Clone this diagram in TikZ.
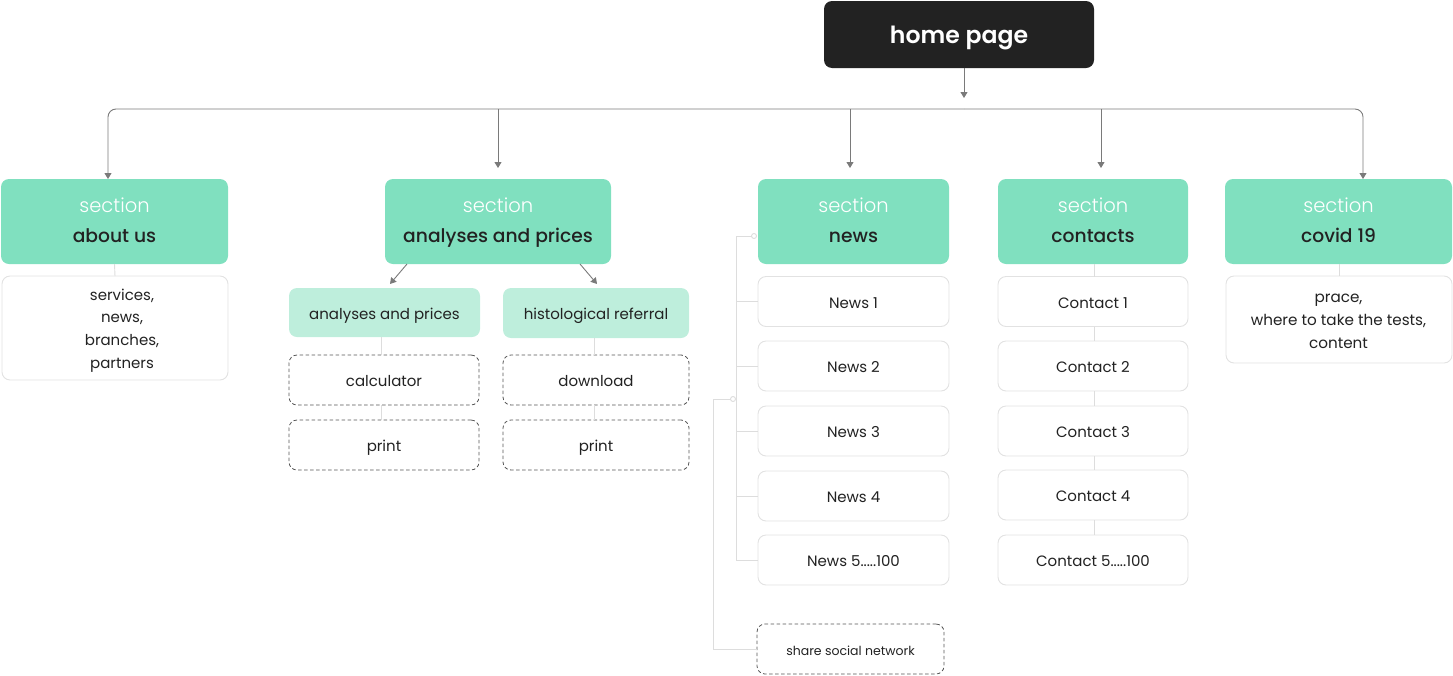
\documentclass[tikz,border=0pt]{standalone}
\usepackage{fontspec}
\setmainfont{Poppins}
\newfontfamily\poplight{Poppins Light}
\newfontfamily\popmed{Poppins Medium}
\newfontfamily\popsemi{Poppins SemiBold}
\usetikzlibrary{arrows.meta}

\definecolor{ink}{HTML}{222222}
\definecolor{homebg}{HTML}{222222}
\definecolor{secg}{HTML}{80E0BF}
\definecolor{subg}{HTML}{BEEEDC}
\definecolor{edge}{HTML}{E2E2E2}
\definecolor{wireg}{HTML}{DDDDDD}
\definecolor{arrg}{HTML}{7A7A7A}
\definecolor{dashc}{HTML}{555555}

% two-line section caption; the struts keep every caption at the same height
\newcommand\sectstrut{\rule[-4pt]{0pt}{20pt}}
\newcommand\sectlabel[1]{{\poplight\fontsize{19.5}{30}\selectfont\color{white}\sectstrut section}\\{\popmed\sectstrut #1}}

\tikzset{
  base/.style={rounded corners=8pt, inner sep=0pt, outer sep=0pt, align=center, text=ink},
  homebox/.style={base, fill=homebg, text=white, font=\popsemi\fontsize{23.6}{28}\selectfont,
    text height=19pt, text depth=1.4pt},
  sect/.style={base, fill=secg, font=\fontsize{18.7}{30}\selectfont},
  oneline/.style={text height=15pt, text depth=1.4pt},
  leaf/.style={base, draw=edge, fill=white, line width=0.9pt, font=\fontsize{15}{23}\selectfont},
  subbox/.style={base, oneline, fill=subg, font=\fontsize{15}{23}\selectfont},
  optbox/.style={base, oneline, draw=dashc, fill=white, line width=0.8pt, dash pattern=on 3.5pt off 2.5pt, font=\fontsize{15}{23}\selectfont},
  listtext/.style={font=\fontsize{15}{22.8}\selectfont, text=ink, align=center, inner sep=0pt},
  wire/.style={draw=wireg, line width=0.9pt},
  arr/.style={draw=arrg, line width=0.9pt, -{Triangle[width=7pt,length=6pt]}},
  bus/.style={arr, rounded corners=8pt},
}

\begin{document}
\begin{tikzpicture}[x=1pt,y=-1pt]
\useasboundingbox (0,0) rectangle (1453,675);

% root
\node[homebox, minimum width=270, minimum height=67] (home) at (959,34.5) {home page};

% sections
\node[sect, minimum width=227, minimum height=85] (about)    at (114.5,221.5) {\sectlabel{about us}};
\node[sect, minimum width=226, minimum height=85] (analyses) at (498,221.5)   {\sectlabel{analyses and prices}};
\node[sect, minimum width=191, minimum height=85] (news)     at (853.5,221.5) {\sectlabel{news}};
\node[sect, minimum width=190, minimum height=85] (contacts) at (1093,221.5)  {\sectlabel{contacts}};
\node[sect, minimum width=227, minimum height=85] (covid)    at (1338.5,221.5){\sectlabel{covid 19}};

% distribution bus
\coordinate (root) at (964,98);
\coordinate (busmid) at (964,109);
\draw[arr] ([xshift=5pt]home.south) -- (root);
\draw[bus] (busmid) -| ([xshift=-6.5pt]about.north);
\draw[bus] (busmid) -| ([xshift=24.5pt]covid.north);
\draw[arr] (busmid -| analyses.north) -- ([yshift=11pt]analyses.north);
\draw[arr] (busmid -| 850,0) -- ([xshift=-3.5pt,yshift=11pt]news.north);
\draw[arr] (busmid -| 1101,0) -- ([xshift=8pt,yshift=11pt]contacts.north);

% about us
\node[leaf, minimum width=226, minimum height=104] (aboutsub) at (115,328) {};
\node[listtext] (abouttext) at (122,330.5) {services,\\news,\\branches,\\partners};
\draw[wire] (about.south) -- (aboutsub.north);

% analyses and prices
\node[subbox, minimum width=191, minimum height=49] (prices) at (384.5,312.5) {analyses and prices};
\node[subbox, minimum width=186, minimum height=50] (histo)  at (596,313)    {histological referral};
\node[optbox, minimum width=190, minimum height=50] (calc)   at (384,380)    {calculator};
\node[optbox, minimum width=190, minimum height=50] (printa) at (384,445)    {print};
\node[optbox, minimum width=186, minimum height=50] (down)   at (596,380)    {download};
\node[optbox, minimum width=186, minimum height=50] (printb) at (596,445)    {print};
\draw[arr] ([xshift=-91pt]analyses.south) -- ([xshift=5.5pt,yshift=4pt]prices.north);
\draw[arr] ([xshift=82pt]analyses.south) -- ([xshift=1pt,yshift=4pt]histo.north);
\draw[wire] ([xshift=-3.5pt]prices.south) -- ([xshift=-3pt]calc.north);
\draw[wire] ([xshift=-3pt]calc.south) -- ([xshift=-3pt]printa.north);
\draw[wire] ([xshift=-2pt]histo.south) -- ([xshift=-2pt]down.north);
\draw[wire] ([xshift=-2pt]down.south) -- ([xshift=-2pt]printb.north);

% news
\node[leaf, oneline, minimum width=191, minimum height=50] (n1) at (853.5,301.5) {News 1};
\node[leaf, oneline, minimum width=191, minimum height=50] (n2) at (853.5,366)   {News 2};
\node[leaf, oneline, minimum width=191, minimum height=50] (n3) at (853.5,431)   {News 3};
\node[leaf, oneline, minimum width=191, minimum height=50] (n4) at (853.5,496)   {News 4};
\node[leaf, oneline, minimum width=191, minimum height=50] (n5) at (853.5,560)   {News 5.....100};
\node[optbox, minimum width=187, minimum height=50, font=\fontsize{12.5}{15}\selectfont,
  text height=13pt, text depth=1pt] (share) at (850.5,649) {share social network};
\coordinate (brk) at (736,236);
\coordinate (brkdot) at (754,236);
\draw[wire] (brkdot) -- (brk) -- (brk |- n5.west) -- (n5.west);
\foreach \n in {n1,n2,n3,n4} \draw[wire] (brk |- \n.west) -- (\n.west);
\draw[wire, fill=white] (brkdot) circle (2.5);
\coordinate (shr) at (713,399);
\coordinate (shrdot) at (733,399);
\draw[wire] (shrdot) -- (shr) -- (shr |- share.west) -- (share.west);
\draw[wire, fill=white] (shrdot) circle (2.5);

% contacts
\node[leaf, oneline, minimum width=190, minimum height=50] (c1) at (1093,301.5) {Contact 1};
\node[leaf, oneline, minimum width=190, minimum height=50] (c2) at (1093,366)   {Contact 2};
\node[leaf, oneline, minimum width=190, minimum height=50] (c3) at (1093,431)   {Contact 3};
\node[leaf, oneline, minimum width=190, minimum height=50] (c4) at (1093,495)   {Contact 4};
\node[leaf, oneline, minimum width=190, minimum height=50] (c5) at (1093,560)   {Contact 5.....100};
\draw[wire] ([xshift=1pt]contacts.south) -- ([xshift=1pt]c1.north);
\draw[wire] ([xshift=1pt]c1.south) -- ([xshift=1pt]c2.north);
\draw[wire] ([xshift=1pt]c2.south) -- ([xshift=1pt]c3.north);
\draw[wire] ([xshift=1pt]c3.south) -- ([xshift=1pt]c4.north);
\draw[wire] ([xshift=1pt]c4.south) -- ([xshift=1pt]c5.north);

% covid 19
\node[leaf, minimum width=226, minimum height=87] (covidsub) at (1339,319.5) {};
\node[listtext, font=\fontsize{15.2}{23}\selectfont] (covidtext) at (1338.5,321.5) {prace,\\where to take the tests,\\content};
\draw[wire] ([xshift=0.5pt]covid.south) -- (covidsub.north);
\end{tikzpicture}
\end{document}
